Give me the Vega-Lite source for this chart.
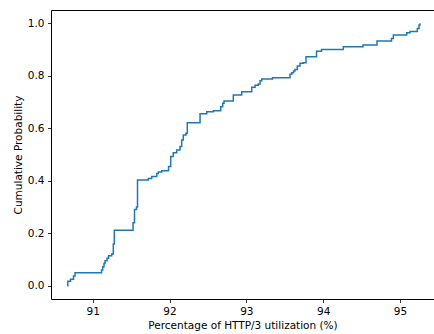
{
  "$schema": "https://vega.github.io/schema/vega-lite/v6.json",
  "autosize": "none",
  "width": 383,
  "height": 289,
  "padding": {"left": 51, "top": 10, "right": 0, "bottom": 35},
  "background": "white",
  "config": {
    "view": {"stroke": "#000000", "strokeWidth": 1},
    "axis": {
      "grid": false,
      "domain": false,
      "tickColor": "#000000",
      "tickSize": 3.5,
      "tickWidth": 0.8,
      "labelFont": "DejaVu Sans",
      "labelFontSize": 10.5,
      "labelColor": "#000000",
      "labelPadding": 3.5,
      "titleFont": "DejaVu Sans",
      "titleFontSize": 10.5,
      "titleFontWeight": "normal",
      "titleColor": "#000000",
      "titlePadding": 4
    }
  },
  "data": {
    "values": [
      {"x": 90.669, "p": 0.0},
      {"x": 90.676, "p": 0.018},
      {"x": 90.711, "p": 0.025},
      {"x": 90.750, "p": 0.038},
      {"x": 90.770, "p": 0.050},
      {"x": 91.115, "p": 0.060},
      {"x": 91.130, "p": 0.073},
      {"x": 91.147, "p": 0.085},
      {"x": 91.160, "p": 0.096},
      {"x": 91.186, "p": 0.105},
      {"x": 91.206, "p": 0.115},
      {"x": 91.247, "p": 0.121},
      {"x": 91.268, "p": 0.159},
      {"x": 91.281, "p": 0.212},
      {"x": 91.525, "p": 0.240},
      {"x": 91.544, "p": 0.291},
      {"x": 91.570, "p": 0.300},
      {"x": 91.583, "p": 0.403},
      {"x": 91.724, "p": 0.409},
      {"x": 91.768, "p": 0.416},
      {"x": 91.833, "p": 0.428},
      {"x": 91.854, "p": 0.433},
      {"x": 91.898, "p": 0.438},
      {"x": 91.987, "p": 0.454},
      {"x": 92.015, "p": 0.492},
      {"x": 92.049, "p": 0.507},
      {"x": 92.093, "p": 0.517},
      {"x": 92.136, "p": 0.530},
      {"x": 92.158, "p": 0.555},
      {"x": 92.179, "p": 0.574},
      {"x": 92.214, "p": 0.581},
      {"x": 92.231, "p": 0.621},
      {"x": 92.397, "p": 0.655},
      {"x": 92.484, "p": 0.663},
      {"x": 92.570, "p": 0.667},
      {"x": 92.666, "p": 0.682},
      {"x": 92.692, "p": 0.695},
      {"x": 92.709, "p": 0.704},
      {"x": 92.830, "p": 0.726},
      {"x": 92.939, "p": 0.739},
      {"x": 93.070, "p": 0.756},
      {"x": 93.113, "p": 0.764},
      {"x": 93.155, "p": 0.768},
      {"x": 93.178, "p": 0.781},
      {"x": 93.200, "p": 0.787},
      {"x": 93.340, "p": 0.792},
      {"x": 93.568, "p": 0.805},
      {"x": 93.590, "p": 0.811},
      {"x": 93.614, "p": 0.818},
      {"x": 93.633, "p": 0.824},
      {"x": 93.663, "p": 0.837},
      {"x": 93.698, "p": 0.847},
      {"x": 93.741, "p": 0.849},
      {"x": 93.776, "p": 0.872},
      {"x": 93.913, "p": 0.893},
      {"x": 93.978, "p": 0.900},
      {"x": 94.262, "p": 0.910},
      {"x": 94.518, "p": 0.917},
      {"x": 94.700, "p": 0.932},
      {"x": 94.889, "p": 0.942},
      {"x": 94.913, "p": 0.955},
      {"x": 95.087, "p": 0.963},
      {"x": 95.130, "p": 0.968},
      {"x": 95.225, "p": 0.980},
      {"x": 95.247, "p": 0.993},
      {"x": 95.260, "p": 1.0}
    ]
  },
  "mark": {"type": "line", "interpolate": "step-after", "color": "#1f77b4", "strokeWidth": 1.5, "clip": true},
  "encoding": {
    "x": {
      "field": "x",
      "type": "quantitative",
      "scale": {"domain": [90.457, 95.442], "nice": false, "zero": false},
      "axis": {"values": [91, 92, 93, 94, 95], "format": "d", "title": "Percentage of HTTP/3 utilization (%)"}
    },
    "y": {
      "field": "p",
      "type": "quantitative",
      "scale": {"domain": [-0.05, 1.05], "nice": false, "zero": false},
      "axis": {"values": [0, 0.2, 0.4, 0.6, 0.8, 1.0], "format": ".1f", "title": "Cumulative Probability"}
    }
  }
}
